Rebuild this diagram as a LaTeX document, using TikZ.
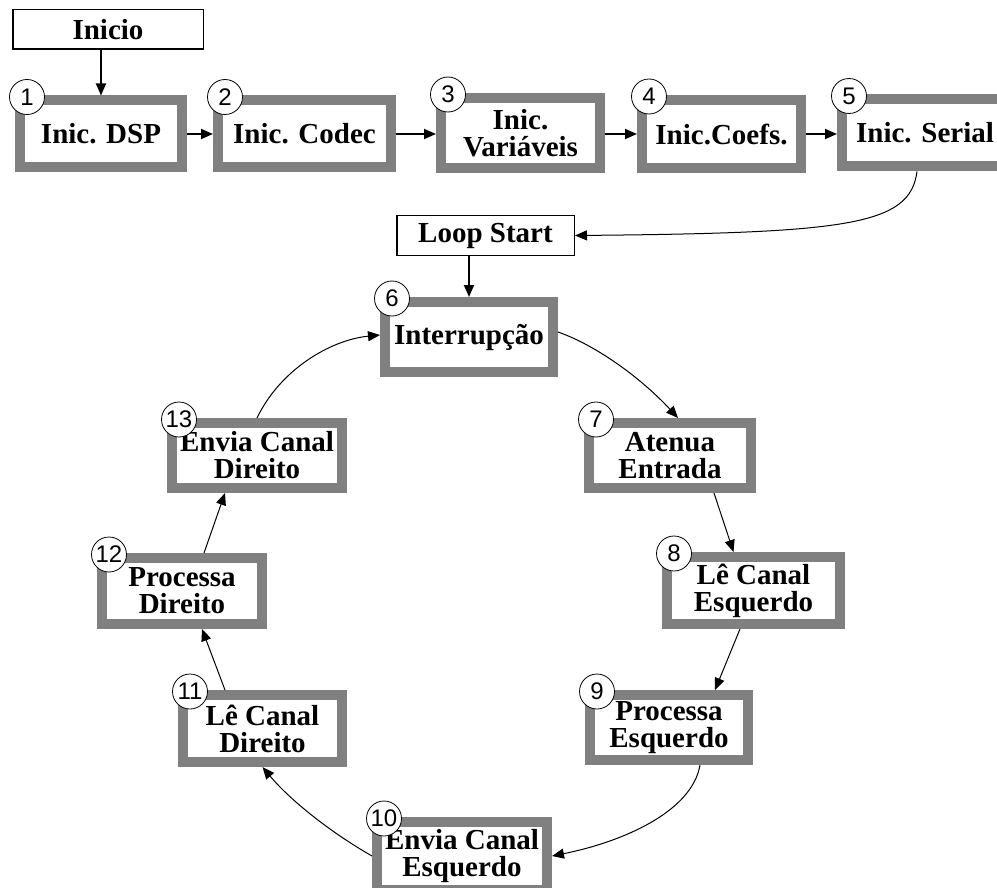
\documentclass[tikz,border=0pt]{standalone}
\usepackage{fontspec}
\setmainfont{Liberation Serif}
\newfontfamily\numfont{Liberation Sans}
\usetikzlibrary{arrows.meta}
\definecolor{boxgray}{RGB}{128,128,128}
\begin{document}
\begin{tikzpicture}[x=1pt,y=-1pt,
  boxfont/.style={font=\fontsize{29}{27}\selectfont\bfseries},
  stepbox/.style={draw=boxgray, line width=10pt, outer sep=5pt, fill=white,
    inner sep=0pt, align=center, boxfont},
  plainbox/.style={draw=black, line width=1.5pt, outer sep=0.75pt, fill=white,
    inner sep=0pt, align=center, boxfont},
  num/.style={circle, draw=black, line width=0.8pt, fill=white, inner sep=0pt,
    minimum size=35pt, font=\numfont\fontsize{24}{24}\selectfont},
  tip/.style={-{Triangle[length=12pt,width=10pt]}},
  conn/.style={tip, line width=1.8pt},
  curveconn/.style={tip, line width=1pt}
]
\useasboundingbox (0,0) rectangle (997,888);

% start boxes
\node[plainbox, minimum width=190.5pt, minimum height=39.5pt] (inicio) at (108,29.5) {Inicio};
\node[plainbox, minimum width=177.5pt, minimum height=39.5pt] (loop) at (485.5,235.5) {Loop Start};

% initialisation chain
\node[stepbox, minimum width=162pt, minimum height=67pt] (b1) at (101,134) {Inic. DSP};
\node[stepbox, minimum width=173pt, minimum height=67pt] (b2) at (304.5,134) {Inic. Codec};
\node[stepbox, minimum width=159pt, minimum height=70pt] (b3) at (520.5,133) {Inic.\\Variáveis};
\node[stepbox, minimum width=159pt, minimum height=68pt] (b4) at (721.5,134) {Inic.Coefs.};
\node[stepbox, minimum width=166pt, minimum height=67pt] (b5) at (925,133) {Inic. Serial};

% processing loop
\node[stepbox, minimum width=168pt, minimum height=70pt] (b6) at (469,337) {Interrupção};
\node[stepbox, minimum width=162pt, minimum height=65pt] (b7) at (670,455.5) {Atenua\\Entrada};
\node[stepbox, minimum width=173pt, minimum height=67pt] (b8) at (753.5,590.5) {Lê Canal\\Esquerdo};
\node[stepbox, minimum width=158pt, minimum height=65pt] (b9) at (669,727.5) {Processa\\Esquerdo};
\node[stepbox, minimum width=170pt, minimum height=68pt] (b10) at (462,856) {Envia Canal\\Esquerdo};
\node[stepbox, minimum width=159pt, minimum height=67pt] (b11) at (262.5,728.5) {Lê Canal\\Direito};
\node[stepbox, minimum width=160pt, minimum height=66pt] (b12) at (182,591) {Processa\\Direito};
\node[stepbox, minimum width=170pt, minimum height=65pt] (b13) at (257,455.5) {Envia Canal\\Direito};

% connectors of the initialisation chain
\draw[conn] (b1.north |- inicio.south) -- (b1.north);
\draw[conn] (b1.east) -- (b2.west);
\draw[conn] (b2.east) -- (b2.east -| b3.west);
\draw[conn] (b3.east |- b4.west) -- (b4.west);
\draw[conn] (b4.east) -- (b4.east -| b5.west);
\draw[curveconn] ([xshift=-8pt]b5.south) .. controls (910,225) and (850,233) .. (loop.east);
\draw[conn] (b6.north |- loop.south) -- (b6.north);

% connectors of the loop
\draw[curveconn] ([yshift=5pt]b6.east) .. controls (598,346) and (643,380) .. ([xshift=8pt]b7.north);
\draw[curveconn] ([xshift=44pt]b7.south) -- ([xshift=-20pt]b8.north);
\draw[curveconn] ([xshift=-13.5pt]b8.south) -- ([xshift=46pt]b9.north);
\draw[curveconn] ([xshift=31pt]b9.south) .. controls (692,812) and (622,842) .. (b10.east);
\draw[curveconn] (b10.west) .. controls (330,832) and (290,800) .. (b11.south);
\draw[curveconn] ([xshift=-37.5pt]b11.north) -- ([xshift=20pt]b12.south);
\draw[curveconn] ([xshift=22pt]b12.north) -- ([xshift=-32pt]b13.south);
\draw[curveconn] (b13.north) .. controls (280,370) and (330,340) .. ([yshift=2pt]b6.west);

% step numbers
\foreach \i in {1,...,13}{
  \node[num] (c\i) at ([shift={(12pt,-1.5pt)}]b\i.north west) {\i};
}
\end{tikzpicture}
\end{document}
